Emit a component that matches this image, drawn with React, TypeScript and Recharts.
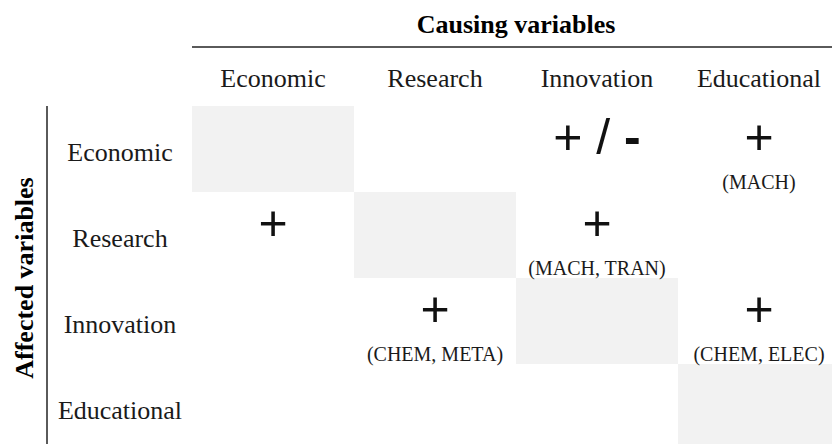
import {
  Scatter,
  XAxis,
  YAxis,
  ScatterChart,
  ReferenceArea,
} from "recharts";

const causing = ["Economic", "Research", "Innovation", "Educational"];
const affected = ["Economic", "Research", "Innovation", "Educational"];

// one entry per non-empty cell of the matrix
const effectAffected = ["Economic", "Economic", "Research", "Research", "Innovation", "Innovation"];
const effectCausing = ["Innovation", "Educational", "Economic", "Innovation", "Research", "Educational"];
const effectSigns = ["+ / -", "+", "+", "+", "+", "+"];
const effectSectors = ["", "(MACH)", "", "(MACH, TRAN)", "(CHEM, META)", "(CHEM, ELEC)"];

const SERIF = "'Liberation Serif', 'Times New Roman', serif";
const SANS = "'Liberation Sans', Arial, sans-serif";

export const enum COLORS {
  TEXT = "#1a1a1a",
  RULE = "#5a5a5a",
  CELL = "#f2f2f2",
}

const cells = effectSigns.map((sign, i) => ({
  x: causing.indexOf(effectCausing[i]) + 0.5,
  y: affected.indexOf(effectAffected[i]) + 0.5,
  sign,
  sector: effectSectors[i],
}));

const centers = causing.map((_, i) => i + 0.5);

const EffectMark = (props: any) => {
  const { cx, cy, payload } = props;
  // the minus is drawn heavier than the plus in the original figure
  const parts = payload.sign.split(/(-)/);
  return (
    <g>
      <text
        x={cx}
        y={cy - 13}
        dy="0.353em"
        textAnchor="middle"
        fontFamily={SANS}
        fontSize={50}
        fill="#111"
      >
        {parts.map((p: string, j: number) => (
          <tspan key={j} fontWeight={p === "-" ? "bold" : "normal"}>
            {p}
          </tspan>
        ))}
      </text>
      {payload.sector && (
        <text
          x={cx}
          y={cy + 33}
          dy="0.33em"
          textAnchor="middle"
          fontFamily={SERIF}
          fontSize={20}
          fill={COLORS.TEXT}
        >
          {payload.sector}
        </text>
      )}
    </g>
  );
};

const RowTick = (props: any) => {
  const { x, y, payload } = props;
  return (
    <text
      x={x - 72}
      y={y + 3}
      dy="0.33em"
      textAnchor="middle"
      fontFamily={SERIF}
      fontSize={26}
      fill={COLORS.TEXT}
    >
      {affected[Math.floor(payload.value)]}
    </text>
  );
};

export default function App() {
  return (
    <div
      style={{
        position: "fixed",
        left: 0,
        top: 0,
        width: 832,
        height: 444,
        overflow: "hidden",
        background: "#fff",
      }}
    >
      <ScatterChart width={840} height={450} margin={{ top: 0, right: 0, bottom: 0, left: 0 }}>
        <XAxis
          xAxisId="a-head"
          type="number"
          dataKey="x"
          orientation="top"
          domain={[0, 4]}
          ticks={centers}
          tickFormatter={(v: number) => causing[Math.floor(v)]}
          height={59}
          axisLine={false}
          tickLine={false}
          tickSize={0}
          tickMargin={19}
          tick={{ fontFamily: SERIF, fontSize: 26, fill: COLORS.TEXT }}
          interval={0}
        />
        <XAxis
          xAxisId="b-title"
          type="number"
          orientation="top"
          domain={[0, 4]}
          height={47}
          tick={false}
          tickLine={false}
          axisLine={{ stroke: COLORS.RULE, strokeWidth: 2 }}
          label={{
            value: "Causing variables",
            position: "center",
            fontFamily: SERIF,
            fontSize: 26,
            fontWeight: "bold",
            fill: "#000",
          }}
        />
        <YAxis
          yAxisId="a-rows"
          type="number"
          dataKey="y"
          domain={[0, 4]}
          reversed
          ticks={centers}
          width={145}
          axisLine={false}
          tickLine={false}
          tickSize={0}
          tickMargin={0}
          tick={<RowTick />}
          interval={0}
        />
        <YAxis
          yAxisId="b-frame"
          type="number"
          domain={[0, 4]}
          width={47}
          tick={false}
          tickLine={false}
          axisLine={{ stroke: COLORS.RULE, strokeWidth: 2 }}
          label={{
            value: "Affected variables",
            position: "center",
            angle: -90,
            fontFamily: SERIF,
            fontSize: 26,
            fontWeight: "bold",
            fill: "#000",
          }}
        />
        {affected.map((_, i) => (
          <ReferenceArea
            key={i}
            xAxisId="a-head"
            yAxisId="a-rows"
            x1={i}
            x2={i + 1}
            y1={i}
            y2={i + 1}
            fill={COLORS.CELL}
            fillOpacity={1}
            stroke="none"
            ifOverflow="visible"
          />
        ))}
        <Scatter
          xAxisId="a-head"
          yAxisId="a-rows"
          data={cells}
          shape={<EffectMark />}
          isAnimationActive={false}
        />
      </ScatterChart>
    </div>
  );
}
